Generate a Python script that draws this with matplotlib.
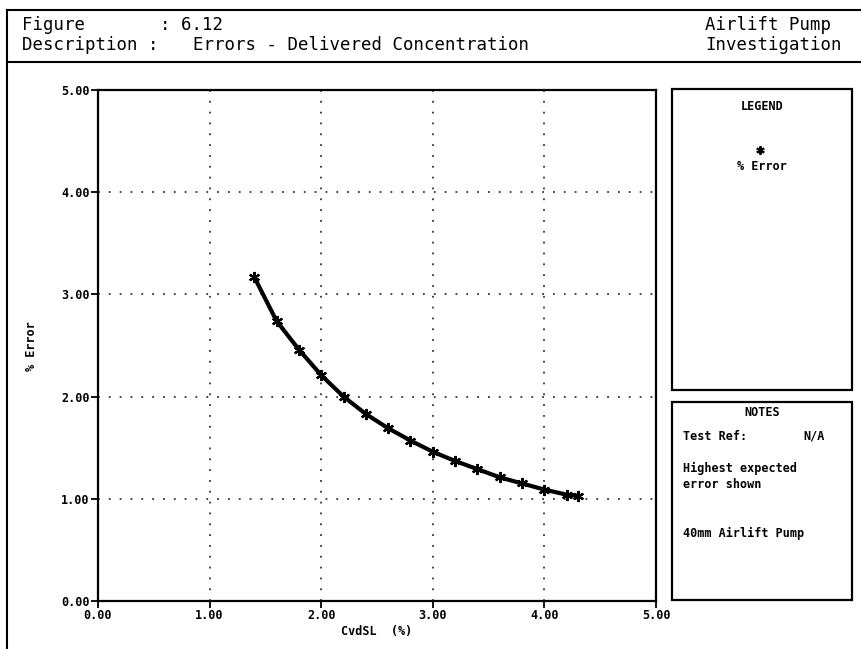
import matplotlib
matplotlib.use("Agg")
import matplotlib.pyplot as plt
from matplotlib.lines import Line2D
from matplotlib.patches import Rectangle

# ---- data ----
cvdsl = [1.40, 1.60, 1.80, 2.00, 2.20, 2.40, 2.60, 2.80, 3.00, 3.20, 3.40, 3.60, 3.80, 4.00, 4.20, 4.30]
error_pct = [3.17, 2.74, 2.46, 2.21, 2.00, 1.83, 1.69, 1.57, 1.46, 1.37, 1.29, 1.21, 1.15, 1.09, 1.04, 1.03]
x_ticks = [0, 1, 2, 3, 4, 5]
y_ticks = [0, 1, 2, 3, 4, 5]
tick_labels = ["0.00", "1.00", "2.00", "3.00", "4.00", "5.00"]

W, H = 862, 649
MONO = "DejaVu Sans Mono"

fig = plt.figure(figsize=(W / 100, H / 100), dpi=100)
fig.patch.set_facecolor("white")


def fx(px):
    return px / W


def fy(py):
    return 1 - py / H


def ftext(px, py, s, **kw):
    kw.setdefault("family", MONO)
    kw.setdefault("va", "center")
    fig.text(fx(px), fy(py), s, **kw)


# outer frame and header separator
fig.add_artist(Line2D([fx(7), fx(7)], [fy(10), fy(649)], color="black", lw=1.5))
fig.add_artist(Line2D([fx(7), fx(862)], [fy(10), fy(10)], color="black", lw=1.5))
fig.add_artist(Line2D([fx(7), fx(862)], [fy(62), fy(62)], color="black", lw=1.5))

# header text
ftext(22, 25, "Figure", fontsize=12.5)
ftext(160, 25, ": 6.12", fontsize=12.5)
ftext(22, 45, "Description :", fontsize=12.5)
ftext(193, 45, "Errors - Delivered Concentration", fontsize=12.5)
ftext(705, 25, "Airlift Pump", fontsize=12.5)
ftext(705, 45, "Investigation", fontsize=12.5)

# main axes
L, R, T, B = 98, 656, 90, 601
ax = fig.add_axes([fx(L), fy(B), fx(R) - fx(L), fy(T) - fy(B)])
ax.set_xlim(0, 5)
ax.set_ylim(0, 5)
ax.set_xticks(x_ticks)
ax.set_yticks(y_ticks)
ax.set_xticklabels(tick_labels, family=MONO, fontsize=8.5, fontweight="bold")
ax.set_yticklabels(tick_labels, family=MONO, fontsize=8.5, fontweight="bold")
ax.tick_params(direction="out", length=5, width=1.3, color="black", pad=1)
for s in ax.spines.values():
    s.set_linewidth(1.6)
    s.set_color("black")
ax.grid(True, color="#333333", linestyle=(0, (1, 5)), linewidth=1.3)
ax.set_axisbelow(True)

ax.plot(cvdsl, error_pct, color="black", lw=3.0, solid_capstyle="round",
        solid_joinstyle="round", zorder=3)
ax.plot(cvdsl, error_pct, linestyle="none", marker=(6, 2, 0), markersize=8,
        markeredgewidth=1.6, color="black", zorder=4)

# axis labels
ftext(377, 631, "CvdSL  (%)", fontsize=8.5, ha="center", fontweight="bold")
ftext(32, 346, "% Error", fontsize=8.5, ha="center", fontweight="bold", rotation=90)

# legend box
fig.add_artist(Rectangle((fx(672), fy(390)), fx(852) - fx(672), fy(89) - fy(390),
                         fill=False, edgecolor="black", lw=1.6, transform=fig.transFigure))
ftext(762, 107, "LEGEND", fontsize=8.5, ha="center", fontweight="bold")
fig.add_artist(Line2D([fx(760)], [fy(150)], marker=(6, 2, 0), markersize=6,
                      markeredgewidth=1.5, color="black", linestyle="none"))
ftext(762, 166, "% Error", fontsize=8.5, ha="center", fontweight="bold")

# notes box
fig.add_artist(Rectangle((fx(672), fy(600)), fx(852) - fx(672), fy(402) - fy(600),
                         fill=False, edgecolor="black", lw=1.6, transform=fig.transFigure))
ftext(762, 413, "NOTES", fontsize=8.5, ha="center", fontweight="bold")
ftext(683, 436, "Test Ref:", fontsize=8.5, fontweight="bold")
ftext(803, 436, "N/A", fontsize=8.5, fontweight="bold")
ftext(683, 468, "Highest expected", fontsize=8.5, fontweight="bold")
ftext(683, 485, "error shown", fontsize=8.5, fontweight="bold")
ftext(683, 533, "40mm Airlift Pump", fontsize=8.5, fontweight="bold")

fig.savefig("out.png", dpi=100)
